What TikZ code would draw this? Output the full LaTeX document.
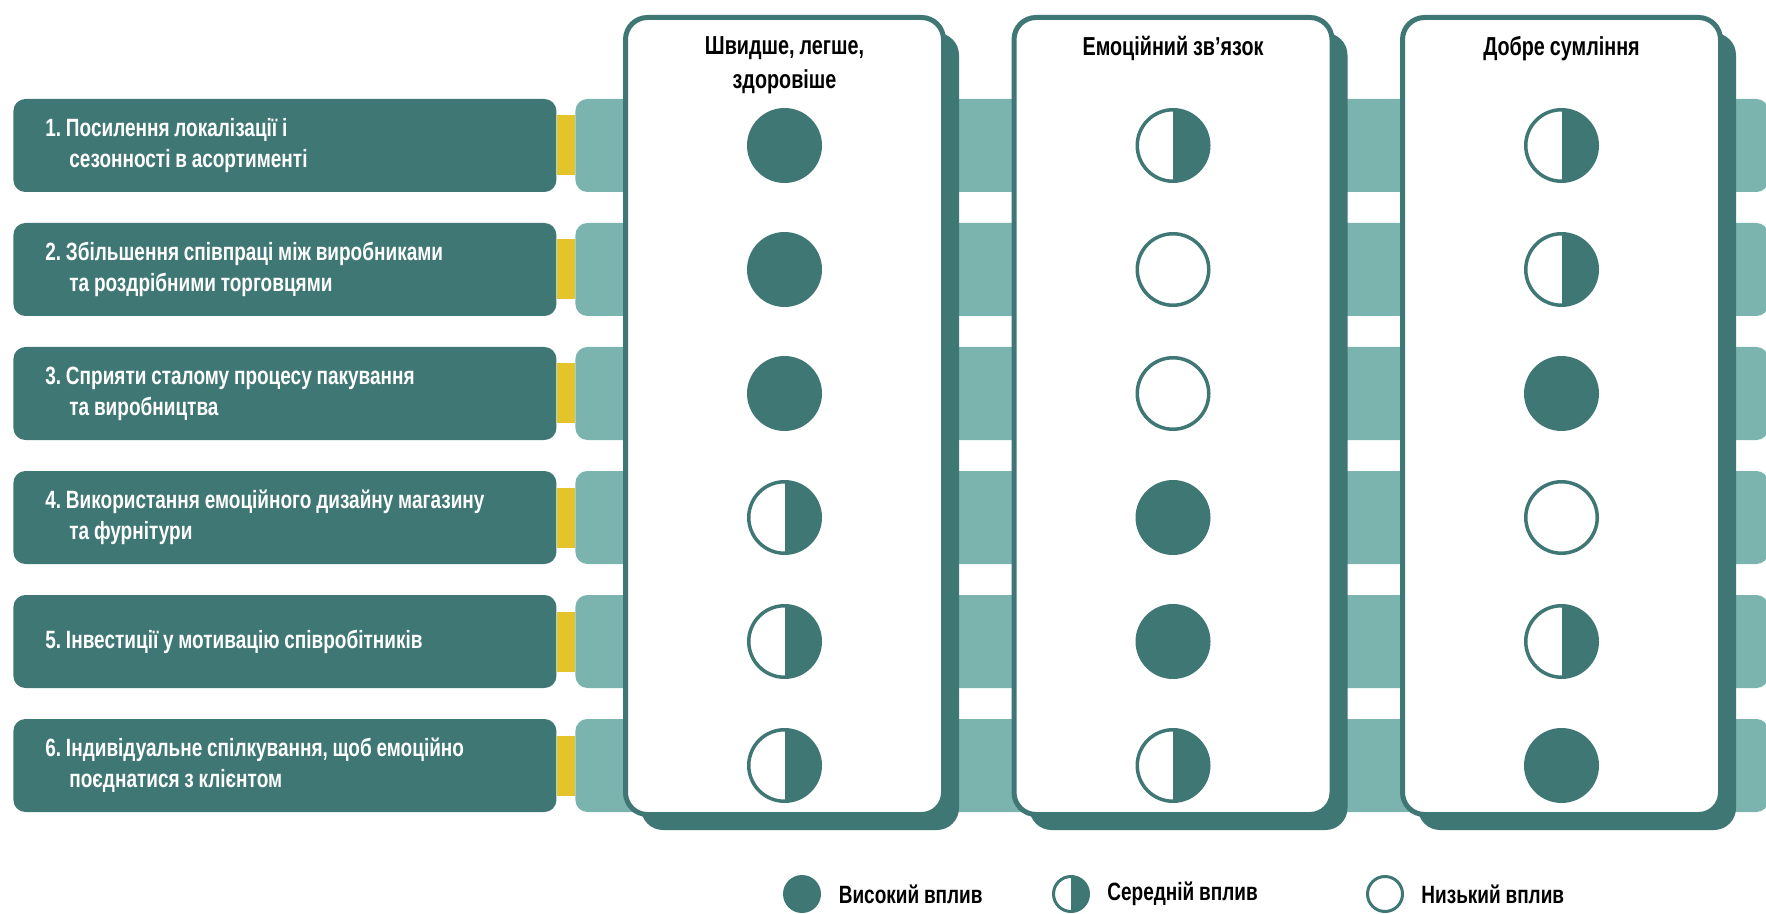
\documentclass[tikz,border=0pt]{standalone}
\usepackage{fontspec}
\setmainfont{Liberation Sans}[FakeStretch=0.76,WordSpace=0.9]
\usepackage{xcolor}
\usepackage{tikz}
\usetikzlibrary{positioning,shadows}
\definecolor{Teal}{HTML}{3F7775}
\definecolor{TealSoft}{HTML}{7BB4AF}
\definecolor{Mustard}{HTML}{E3C42A}
\newcommand\nextline{\\\hspace*{12pt}}
\newcommand\tightwords{\frenchspacing\spaceskip=0pt\xspaceskip=0pt\relax}

\begin{document}
\begin{tikzpicture}[x=0.5pt,y=-0.5pt,
  item/.style={rounded corners=6pt,fill=Teal,text=white,anchor=west,
               minimum height=46.5pt,text width=239.5pt,inner xsep=16pt,inner ysep=0pt,
               align=left,font=\bfseries\fontsize{12.5}{15.5}\selectfont},
  rail/.style={rounded corners=6pt,fill=TealSoft,anchor=west,
               minimum width=596.5pt,minimum height=46.5pt,inner sep=0pt},
  joint/.style={fill=Mustard},
  panel/.style={rounded corners=11pt,draw=Teal,line width=2.5pt,fill=white,
                minimum width=159pt,minimum height=398.5pt,inner sep=0pt,
                drop shadow={shadow xshift=7.75pt,shadow yshift=-7.75pt,fill=Teal,opacity=1}},
  head/.style={align=center,anchor=base,inner sep=0pt,
               font=\bfseries\fontsize{13}{17}\selectfont},
  hiDot/.style={circle,fill=Teal,minimum size=37.5pt,inner sep=0pt},
  loDot/.style={circle,draw=Teal,line width=1.75pt,fill=white,minimum size=35.75pt,inner sep=0pt},
  midDot/.style={loDot,path picture={\fill[Teal] (path picture bounding box.north)
                 rectangle (path picture bounding box.south east);}},
  key/.style={anchor=west,inner sep=0pt,font=\bfseries\fontsize{12.5}{15}\selectfont}
]

  \useasboundingbox (0,0) rectangle (1766,914);

  \foreach \i [evaluate=\i as \y using 145.5+124*(\i-1)] in {1,...,6}
    \node[rail] (rail\i) at (575,\y) {};

  \foreach \j/\x in {1/784.5,2/1173,3/1561.5}
    \node[panel] (col\j) at (\x,416) {};

  \foreach \i/\txt [evaluate=\i as \y using 145.5+124*(\i-1)] in {
      1/{1. Посилення локалізації і\nextline сезонності в асортименті},
      2/{2. Збільшення співпраці між виробниками\nextline та роздрібними торговцями},
      3/{3. Сприяти сталому процесу пакування\nextline та виробництва},
      4/{4. Використання емоційного дизайну магазину\nextline та фурнітури},
      5/{5. Інвестиції у мотивацію співробітників},
      6/{6. Індивідуальне спілкування, щоб емоційно\nextline поєднатися з клієнтом}} {
    \node[item] (item\i) at (13,\y) {\tightwords\txt};
    \fill[joint] ([yshift=15pt]item\i.east) rectangle ([yshift=-15pt]rail\i.west);
  }

  \node[head] (head1) at ([yshift=-37pt]col1.north) {Швидше, легше,\\здоровіше};
  \node[head] (head2) at ([yshift=-20.5pt]col2.north) {Емоційний зв’язок};
  \node[head] (head3) at ([yshift=-20.5pt]col3.north) {Добре сумління};

  \foreach \i/\a/\b/\c in {1/hiDot/midDot/midDot,2/hiDot/loDot/midDot,3/hiDot/loDot/hiDot,
                           4/midDot/hiDot/loDot,5/midDot/hiDot/midDot,6/midDot/midDot/hiDot} {
    \node[\a] (dot\i-1) at (col1 |- item\i) {};
    \node[\b] (dot\i-2) at (col2 |- item\i) {};
    \node[\c] (dot\i-3) at (col3 |- item\i) {};
  }

  \node[hiDot,minimum size=19pt] (keyHigh) at (802,894) {};
  \node[key,right=8.5pt of keyHigh] (labHigh) {Високий вплив};
  \node[midDot,line width=1.5pt,minimum size=17.5pt] (keyMid) at (1071,894) {};
  \node[key,right=8.5pt of keyMid] (labMid) {Середній вплив};
  \node[loDot,line width=1.5pt,minimum size=17.5pt] (keyLow) at (1385,894) {};
  \node[key,right=8.5pt of keyLow] (labLow) {Низький вплив};

\end{tikzpicture}
\end{document}
